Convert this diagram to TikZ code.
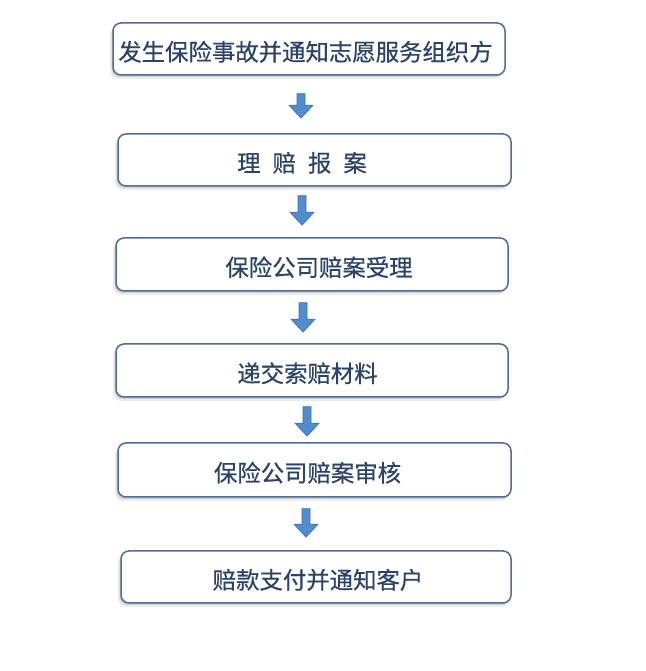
\documentclass[tikz,border=0pt]{standalone}
\usepackage{fontspec}
\setmainfont{Noto Sans CJK SC}
\newfontfamily\cjkm[FakeBold=0.5]{Noto Sans CJK SC}
\usetikzlibrary{calc,shadows}
\definecolor{boxedge}{RGB}{79,109,150}
\definecolor{txtcol}{RGB}{44,66,102}
\definecolor{arrowfill}{RGB}{80,140,206}
\definecolor{arrowedge}{RGB}{64,112,170}
\tikzset{
  stepbox/.style={draw=boxedge, line width=1.5pt, rounded corners=8pt, fill=white,
    text=txtcol, font=\cjkm\fontsize{23.4}{28}\selectfont, inner sep=0pt,
    text height=26pt, text depth=2.6pt,
    drop shadow={shadow xshift=-3pt, shadow yshift=-4pt, opacity=0.12, fill=black!60},
    drop shadow={shadow xshift=-1.5pt, shadow yshift=-2pt, opacity=0.22, fill=black!60}},
  tshift/.style={execute at begin node={\hspace*{#1}\hspace*{#1}}},
  barrow/.style={fill=arrowfill, draw=arrowedge, line width=0.6pt,
    to path={let \p1=(\tikztostart), \p2=(\tikztotarget) in
      (\x1-4pt,\y1) -- (\x1+4pt,\y1) -- (\x1+4pt,\y2+13pt) -- (\x1+12pt,\y2+13pt)
      -- (\x1,\y2) -- (\x1-12pt,\y2+13pt) -- (\x1-4pt,\y2+13pt) -- cycle}}
}
\begin{document}
\begin{tikzpicture}[x=1pt,y=1pt]
\fill[white] (0,0) rectangle (645,671);
\useasboundingbox (0,0) rectangle (645,671);
\node[stepbox, tshift=-3.5pt, minimum width=392pt, minimum height=52pt] (b1) at (309,622) {发生保险事故并通知志愿服务组织方};
\node[stepbox, tshift=-12.5pt, minimum width=393pt, minimum height=52pt] (b2) at (314.5,511) {{\spaceskip=12pt 理 赔 报 案}};
\node[stepbox, tshift=7pt, minimum width=392pt, minimum height=53pt] (b3) at (312,406.5) {保险公司赔案受理};
\node[stepbox, tshift=-4.5pt, minimum width=392pt, minimum height=53pt] (b4) at (312,300.5) {递交索赔材料};
\node[stepbox, tshift=-7pt, minimum width=393pt, minimum height=54pt] (b5) at (314.5,201) {保险公司赔案审核};
\node[stepbox, tshift=2pt, minimum width=390pt, minimum height=52pt] (b6) at (316,94) {赔款支付并通知客户};
\draw[barrow] ([xshift=-8pt,yshift=-18pt]b1.south) to ([xshift=-8pt,yshift=15pt]b2.north);
\draw[barrow] ([xshift=-12.5pt,yshift=-9pt]b2.south) to ([xshift=-12.5pt,yshift=12pt]b3.north);
\draw[barrow] ([xshift=-9pt,yshift=-11pt]b3.south) to ([xshift=-9pt,yshift=11pt]b4.north);
\draw[barrow] ([xshift=-5pt,yshift=-9pt]b4.south) to ([xshift=-5pt,yshift=6pt]b5.north);
\draw[barrow] ([xshift=-8.5pt,yshift=-11pt]b5.south) to ([xshift=-8.5pt,yshift=13pt]b6.north);
\end{tikzpicture}
\end{document}
